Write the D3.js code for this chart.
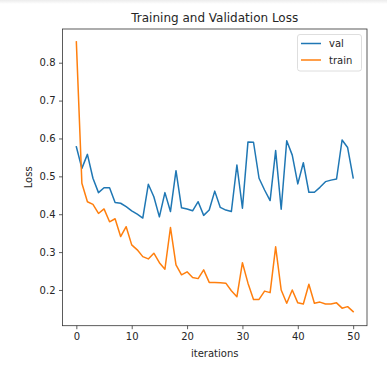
<!DOCTYPE html>
<html><head><meta charset="utf-8">
<script src="https://cdn.jsdelivr.net/npm/d3@7"></script>
<style>body{margin:0;background:#fff}svg{display:block}text{font-family:"DejaVu Sans",sans-serif;fill:#262626}</style>
</head><body>
<script>
const iterations = d3.range(0, 51);
const valLoss = [0.578,0.521,0.558,0.495,0.457,0.470,0.470,0.431,0.429,0.420,0.409,0.400,0.390,0.479,0.446,0.393,0.457,0.407,0.515,0.417,0.414,0.409,0.433,0.397,0.411,0.461,0.418,0.411,0.407,0.530,0.416,0.591,0.590,0.495,0.464,0.436,0.568,0.413,0.594,0.556,0.480,0.536,0.458,0.458,0.471,0.486,0.490,0.493,0.596,0.576,0.496];
const trainLoss = [0.855,0.482,0.433,0.426,0.402,0.414,0.380,0.388,0.341,0.367,0.319,0.306,0.288,0.282,0.297,0.272,0.255,0.365,0.266,0.240,0.248,0.233,0.230,0.253,0.220,0.220,0.219,0.218,0.198,0.182,0.272,0.218,0.175,0.175,0.197,0.193,0.314,0.200,0.165,0.200,0.166,0.163,0.215,0.165,0.168,0.163,0.163,0.166,0.152,0.156,0.143];
const xTicks = [0,10,20,30,40,50];
const yTicks = [0.2,0.3,0.4,0.5,0.6,0.7,0.8];
const seriesNames = ["val","train"];
const colors = ["#1f77b4","#ff7f0e"];

const W=387,H=376;
const L=62.5,R=367,T=29,B=325.7;
const svg=d3.select("body").append("svg").attr("width",W).attr("height",H);
const defs=svg.append("defs");
const gr=defs.append("linearGradient").attr("id","topfade").attr("x1",0).attr("y1",0).attr("x2",0).attr("y2",1);
gr.append("stop").attr("offset","0%").attr("stop-color","#ececec");
gr.append("stop").attr("offset","100%").attr("stop-color","#ffffff");
svg.append("rect").attr("x",0).attr("y",0).attr("width",W).attr("height",4).attr("fill","url(#topfade)");

const x=d3.scaleLinear().domain([-2.5,52.5]).range([L,R]);
const y=d3.scaleLinear().domain([0.1057,0.889]).range([B,T]);

const line=d3.line().x((d,i)=>x(iterations[i])).y(d=>y(d));
[valLoss,trainLoss].forEach((s,k)=>{
  svg.append("path").datum(s).attr("d",line).attr("fill","none")
    .attr("stroke",colors[k]).attr("stroke-width",1.5).attr("stroke-linejoin","round").attr("stroke-linecap","square");
});

svg.append("rect").attr("x",L).attr("y",T).attr("width",R-L).attr("height",B-T)
  .attr("fill","none").attr("stroke","#333").attr("stroke-width",0.8);

const xa=svg.append("g").attr("transform",`translate(0,${B})`)
  .call(d3.axisBottom(x).tickValues(xTicks).tickSize(3.5).tickPadding(3.5).tickFormat(d3.format("d")));
const ya=svg.append("g").attr("transform",`translate(${L},0)`)
  .call(d3.axisLeft(y).tickValues(yTicks).tickSize(3.5).tickPadding(3.5).tickFormat(d3.format(".1f")));
[xa,ya].forEach(a=>{a.select(".domain").remove();
  a.selectAll("line").attr("stroke","#333").attr("stroke-width",0.8);
  a.selectAll("text").attr("font-size",10).attr("font-family","DejaVu Sans").attr("fill","#262626");});

svg.append("text").attr("x",(L+R)/2).attr("y",22).attr("text-anchor","middle").attr("font-size",12).text("Training and Validation Loss");
svg.append("text").attr("x",(L+R)/2).attr("y",357).attr("text-anchor","middle").attr("font-size",10).text("iterations");
svg.append("text").attr("transform",`translate(32,${(T+B)/2}) rotate(-90)`).attr("text-anchor","middle").attr("font-size",10).text("Loss");

const lg=svg.append("g");
lg.append("rect").attr("x",297.5).attr("y",34.5).attr("width",64).attr("height",36.5).attr("rx",2.5)
  .attr("fill","#fff").attr("fill-opacity",0.8).attr("stroke","#d6d6d6").attr("stroke-width",0.8);
seriesNames.forEach((n,k)=>{
  const yy=43.5+k*16.5;
  lg.append("line").attr("x1",301).attr("x2",321).attr("y1",yy).attr("y2",yy).attr("stroke",colors[k]).attr("stroke-width",1.5);
  lg.append("text").attr("x",329).attr("y",yy+3.5).attr("font-size",10).text(n);
});
</script>
</body></html>
